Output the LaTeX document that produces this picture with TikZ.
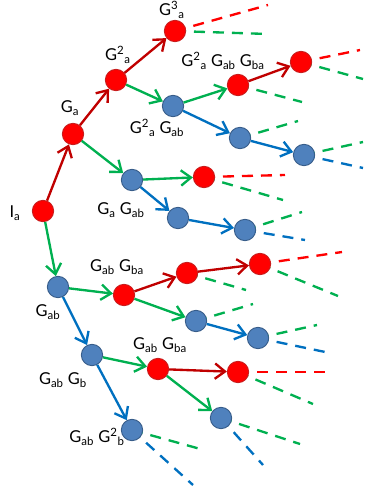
\documentclass[tikz,border=0pt]{standalone}
\usepackage{fontspec}
\setmainfont{Lato}
\usepackage{tikz}
\usetikzlibrary{arrows.meta}

\definecolor{nodered}{RGB}{255,0,0}
\definecolor{rededge}{RGB}{200,30,30}
\definecolor{nodeblue}{RGB}{79,129,189}
\definecolor{blueedge}{RGB}{56,93,138}
\definecolor{arrred}{RGB}{192,0,0}
\definecolor{arrgreen}{RGB}{0,176,80}
\definecolor{arrblue}{RGB}{0,112,192}

\tikzset{
  rnode/.style={circle,fill=nodered,draw=rededge,line width=0.8pt,minimum size=6.4mm,inner sep=0pt},
  bnode/.style={circle,fill=nodeblue,draw=blueedge,line width=0.8pt,minimum size=6.4mm,inner sep=0pt},
  lab/.style={font=\fontsize{14}{16}\selectfont,inner sep=0pt},
  ared/.style={-{Straight Barb[length=3mm,width=4.6mm]},arrred,line width=2pt},
  agreen/.style={-{Straight Barb[length=3mm,width=4.6mm]},arrgreen,line width=2pt},
  ablue/.style={-{Straight Barb[length=3mm,width=4.6mm]},arrblue,line width=2pt},
  dred/.style={nodered,line width=2pt,dash pattern=on 3.3mm off 2.4mm},
  dgreen/.style={arrgreen,line width=2pt,dash pattern=on 3.3mm off 2.4mm},
  dblue/.style={arrblue,line width=2pt,dash pattern=on 3.3mm off 2.4mm}
}

\begin{document}
\begin{tikzpicture}[x=0.3mm,y=-0.3mm]
\useasboundingbox (0,0) rectangle (370,494);

% dashed continuations (behind the nodes)
\coordinate (aaa-r) at (268,5);   \coordinate (aaa-g) at (268,34);
\coordinate (aagga-r) at (360,50); \coordinate (aagga-g) at (363,79);
\coordinate (aagg-g) at (302,102);
\coordinate (aagb-g) at (298,121);
\coordinate (aagbb-g) at (363,142); \coordinate (aagbb-b) at (363,168);
\coordinate (agg-r) at (285,175); \coordinate (agg-g) at (283,200);
\coordinate (agbb-g) at (302,212); \coordinate (agbb-b) at (305,240);
\coordinate (ggaa-r) at (342,252); \coordinate (ggaa-g) at (338,296);
\coordinate (gga-g) at (246,290);
\coordinate (ggg-g) at (253,304);
\coordinate (gggb-g) at (317,325); \coordinate (gggb-b) at (330,353);
\coordinate (gbga-r) at (330,372); \coordinate (gbga-g) at (313,404);
\coordinate (gbgg-g) at (300,444); \coordinate (gbgg-b) at (263,465);
\coordinate (gbb-g) at (204,450); \coordinate (gbb-b) at (193,485);

\draw[dred] (175,31) -- (aaa-r);   \draw[dgreen] (175,31) -- (aaa-g);
\draw[dred] (301,62) -- (aagga-r); \draw[dgreen] (301,62) -- (aagga-g);
\draw[dgreen] (238,85) -- (aagg-g);
\draw[dgreen] (240,138) -- (aagb-g);
\draw[dgreen] (304,155) -- (aagbb-g); \draw[dblue] (304,155) -- (aagbb-b);
\draw[dred] (204,177) -- (agg-r); \draw[dgreen] (204,177) -- (agg-g);
\draw[dgreen] (245,230) -- (agbb-g); \draw[dblue] (245,230) -- (agbb-b);
\draw[dred] (260,264) -- (ggaa-r); \draw[dgreen] (260,264) -- (ggaa-g);
\draw[dgreen] (187,273) -- (gga-g);
\draw[dgreen] (196,321) -- (ggg-g);
\draw[dgreen] (258,338) -- (gggb-g); \draw[dblue] (258,338) -- (gggb-b);
\draw[dred] (238,372) -- (gbga-r); \draw[dgreen] (238,372) -- (gbga-g);
\draw[dgreen] (221,418) -- (gbgg-g); \draw[dblue] (221,418) -- (gbgg-b);
\draw[dgreen] (132,430) -- (gbb-g); \draw[dblue] (132,430) -- (gbb-b);

% tree nodes
\node[rnode] (ia) at (43,211) {};
\node[rnode] (a) at (73,134) {};
\node[rnode] (aa) at (116,80) {};
\node[rnode] (aaa) at (175,31) {};
\node[bnode] (aag) at (173,106) {};
\node[rnode] (aagg) at (238,85) {};
\node[rnode] (aagga) at (301,62) {};
\node[bnode] (aagb) at (240,138) {};
\node[bnode] (aagbb) at (304,155) {};
\node[bnode] (ag) at (132,180) {};
\node[rnode] (agg) at (204,177) {};
\node[bnode] (agb) at (178,218) {};
\node[bnode] (agbb) at (245,230) {};
\node[bnode] (g) at (58,287) {};
\node[rnode] (gg) at (124,295) {};
\node[rnode] (gga) at (187,273) {};
\node[rnode] (ggaa) at (260,264) {};
\node[bnode] (ggg) at (196,321) {};
\node[bnode] (gggb) at (258,338) {};
\node[bnode] (gb) at (92,355) {};
\node[rnode] (gbg) at (158,369) {};
\node[rnode] (gbga) at (238,372) {};
\node[bnode] (gbgg) at (221,418) {};
\node[bnode] (gbb) at (132,430) {};

% arrows
\draw[ared] (ia) -- (a);
\draw[ared] (a) -- (aa);
\draw[ared] (aa) -- (aaa);
\draw[agreen] (aa) -- (aag);
\draw[agreen] (aag) -- (aagg);
\draw[ared] (aagg) -- (aagga);
\draw[ablue] (aag) -- (aagb);
\draw[ablue] (aagb) -- (aagbb);
\draw[agreen] (a) -- (ag);
\draw[agreen] (ag) -- (agg);
\draw[ablue] (ag) -- (agb);
\draw[ablue] (agb) -- (agbb);
\draw[agreen] (ia) -- (g);
\draw[agreen] (g) -- (gg);
\draw[ared] (gg) -- (gga);
\draw[ared] (gga) -- (ggaa);
\draw[agreen] (gg) -- (ggg);
\draw[ablue] (ggg) -- (gggb);
\draw[ablue] (g) -- (gb);
\draw[agreen] (gb) -- (gbg);
\draw[ared] (gbg) -- (gbga);
\draw[agreen] (gbg) -- (gbgg);
\draw[ablue] (gb) -- (gbb);

% labels
\node[lab] (l-ia) at (15,213) {I\textsubscript{a}};
\node[lab] (l-a) at (70,108) {G\textsubscript{a}};
\node[lab] (l-aa) at (118,55) {G\textsuperscript{2}\textsubscript{a}};
\node[lab] (l-aaa) at (172,10) {G\textsuperscript{3}\textsubscript{a}};
\node[lab] (l-aagg) at (223,61) {G\textsuperscript{2}\textsubscript{a} G\textsubscript{ab} G\textsubscript{ba}};
\node[lab] (l-aag) at (157,128) {G\textsuperscript{2}\textsubscript{a} G\textsubscript{ab}};
\node[lab] (l-ag) at (121,210) {G\textsubscript{a} G\textsubscript{ab}};
\node[lab] (l-gg) at (117,267) {G\textsubscript{ab} G\textsubscript{ba}};
\node[lab] (l-g) at (48,312) {G\textsubscript{ab}};
\node[lab] (l-gbg) at (160,345) {G\textsubscript{ab} G\textsubscript{ba}};
\node[lab] (l-gb) at (63,380) {G\textsubscript{ab} G\textsubscript{b}};
\node[lab] (l-gbb) at (97,437) {G\textsubscript{ab} G\textsuperscript{2}\textsubscript{b}};
\end{tikzpicture}
\end{document}
